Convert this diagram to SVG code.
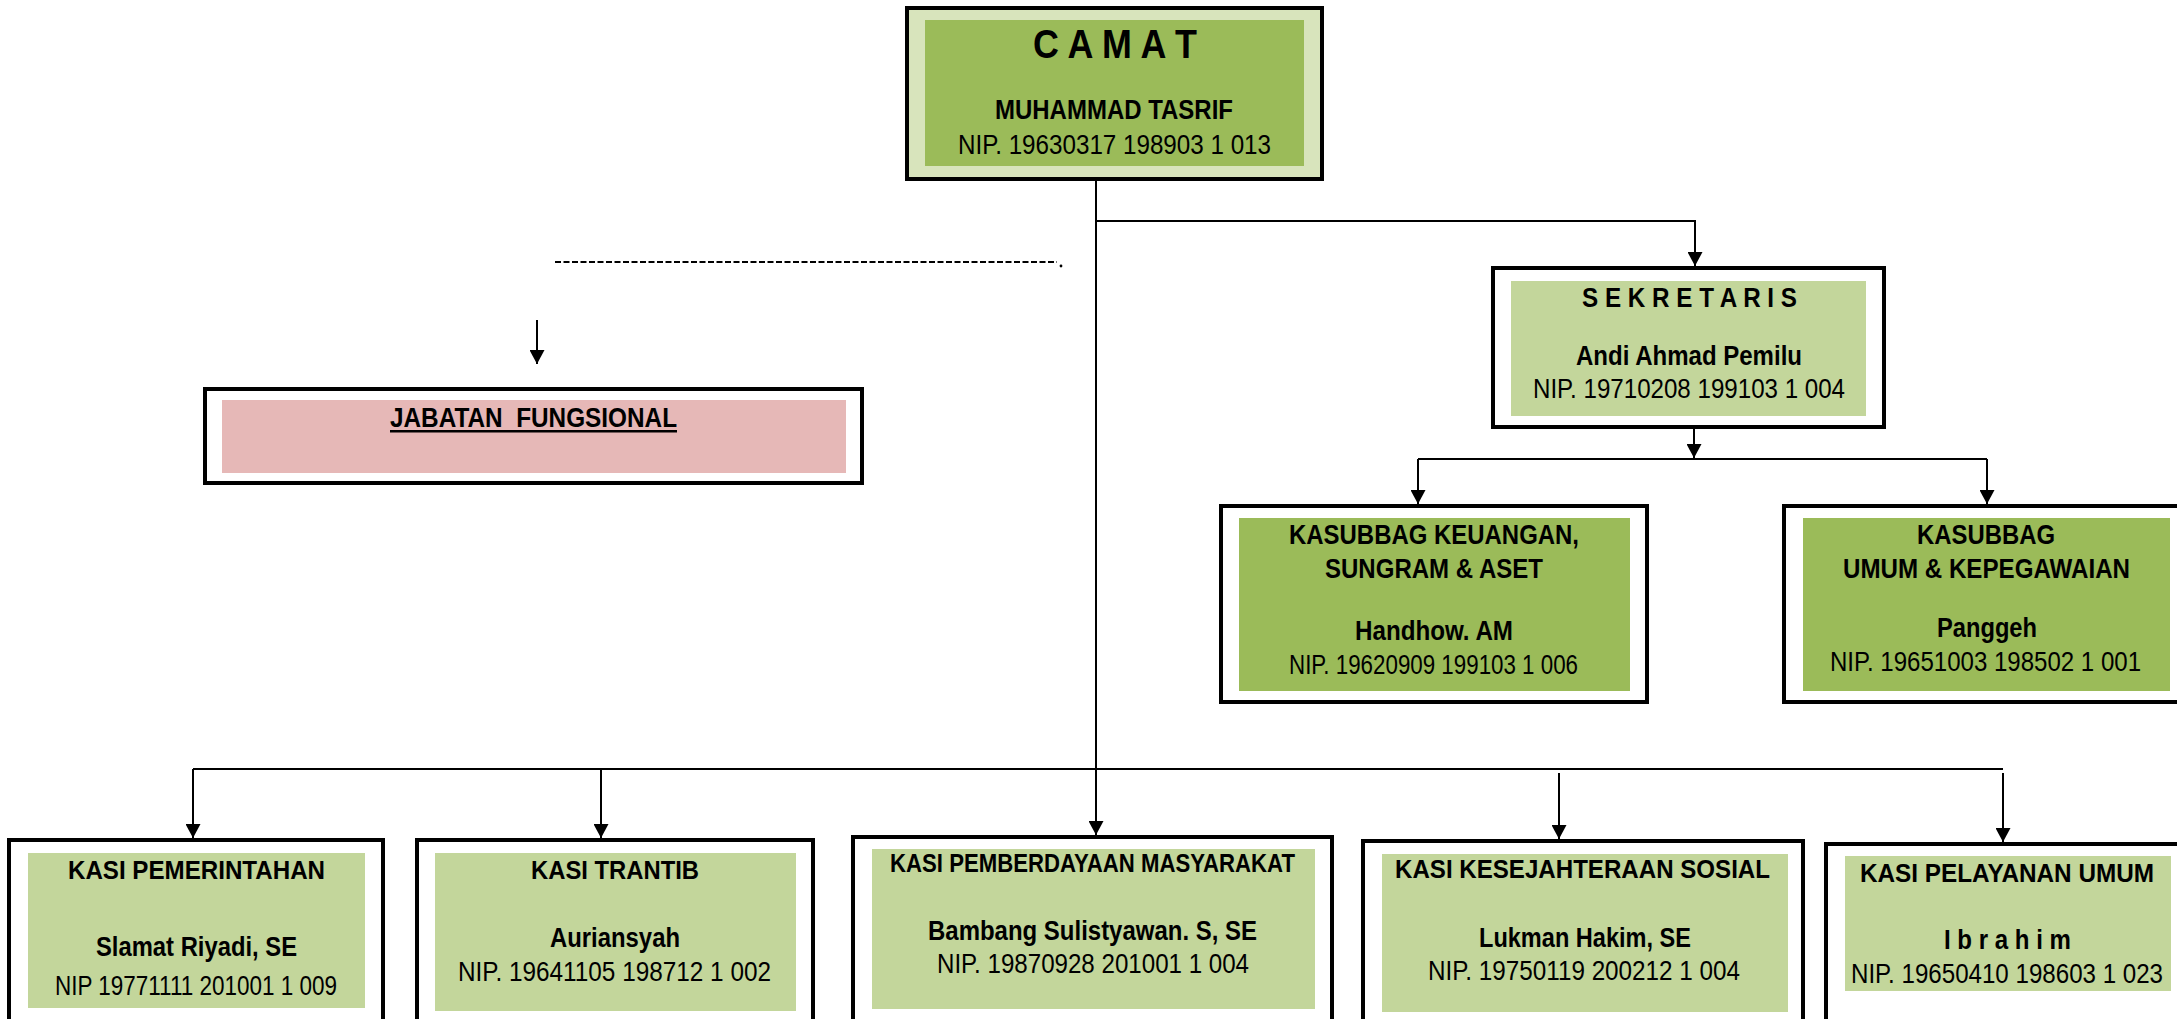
<svg xmlns="http://www.w3.org/2000/svg" width="2177" height="1019" viewBox="0 0 2177 1019">
<defs>
<marker id="arr" markerUnits="userSpaceOnUse" markerWidth="15" markerHeight="15" refX="14" refY="7.5" orient="auto">
<path d="M0,0 L14,7.5 L0,15 z" fill="#000"/>
</marker>
<style>
.outer{fill:#fff;stroke:#000;stroke-width:4}
.camat-outer{fill:#d8e4bc;stroke:#000;stroke-width:4}
.dark{fill:#9bbb59}
.light{fill:#c3d69b}
.pink{fill:#e6b8b7}
text{font-family:"Liberation Sans",Arial,sans-serif;fill:#000;text-anchor:middle}
.b{font-weight:bold}
.t{font-size:27px}
.s{font-size:25px}
.conn{fill:none;stroke:#000;stroke-width:2}
</style>
</defs>
<rect width="2177" height="1019" fill="#fff"/>

<g id="connectors">
<path class="conn" d="M1096,180 V835" marker-end="url(#arr)"/>
<path class="conn" d="M1096,221 H1695 V266" marker-end="url(#arr)"/>
<path class="conn" d="M1694,427 V458" marker-end="url(#arr)"/>
<path class="conn" d="M1418,459 H1987"/>
<path class="conn" d="M1418,459 V504" marker-end="url(#arr)"/>
<path class="conn" d="M1987,459 V504" marker-end="url(#arr)"/>
<path class="conn" d="M193,769 H2003"/>
<path class="conn" d="M193,769 V838" marker-end="url(#arr)"/>
<path class="conn" d="M601,769 V838" marker-end="url(#arr)"/>
<path class="conn" d="M1559,773 V839" marker-end="url(#arr)"/>
<path class="conn" d="M2003,773 V842" marker-end="url(#arr)"/>
<path class="conn" d="M537,320 V364" marker-end="url(#arr)"/>
<path class="conn" d="M555,262 H1057" stroke-dasharray="6 2.5" stroke-width="2.2"/>
<circle cx="1061" cy="266" r="1.4" fill="#000"/>
</g>

<g id="camat">
<rect class="camat-outer" x="907" y="8" width="415" height="171"/>
<rect class="dark" x="925" y="20" width="379" height="146"/>
<text class="b" x="1115" y="58" font-size="40" textLength="164" lengthAdjust="spacingAndGlyphs">C A M A T</text>
<text class="b t" x="1114" y="119" textLength="238" lengthAdjust="spacingAndGlyphs">MUHAMMAD TASRIF</text>
<text x="1114.5" y="154" font-size="28" textLength="313" lengthAdjust="spacingAndGlyphs">NIP. 19630317 198903 1 013</text>
</g>

<g id="sekretaris">
<rect class="outer" x="1493" y="268" width="391" height="159"/>
<rect class="light" x="1511" y="281" width="355" height="135"/>
<text class="b t" x="1689.5" y="307" textLength="215" lengthAdjust="spacingAndGlyphs">S E K R E T A R I S</text>
<text class="b t" x="1689" y="365" textLength="226" lengthAdjust="spacingAndGlyphs">Andi Ahmad Pemilu</text>
<text class="t" x="1689" y="398" textLength="312" lengthAdjust="spacingAndGlyphs">NIP. 19710208 199103 1 004</text>
</g>

<g id="kasubbag-keuangan">
<rect class="outer" x="1221" y="506" width="426" height="196"/>
<rect class="dark" x="1239" y="518" width="391" height="173"/>
<text class="b t" x="1434" y="544" textLength="290" lengthAdjust="spacingAndGlyphs">KASUBBAG KEUANGAN,</text>
<text class="b t" x="1434" y="578" textLength="218" lengthAdjust="spacingAndGlyphs">SUNGRAM &amp; ASET</text>
<text class="b t" x="1434" y="640" textLength="158" lengthAdjust="spacingAndGlyphs">Handhow. AM</text>
<text class="t" x="1433.5" y="674" textLength="289" lengthAdjust="spacingAndGlyphs">NIP. 19620909 199103 1 006</text>
</g>

<g id="kasubbag-umum">
<rect class="outer" x="1784" y="506" width="410" height="196"/>
<rect class="dark" x="1803" y="518" width="367" height="173"/>
<text class="b t" x="1986" y="544" textLength="138" lengthAdjust="spacingAndGlyphs">KASUBBAG</text>
<text class="b t" x="1986.5" y="578" textLength="287" lengthAdjust="spacingAndGlyphs">UMUM &amp; KEPEGAWAIAN</text>
<text class="b t" x="1987" y="637" textLength="100" lengthAdjust="spacingAndGlyphs">Panggeh</text>
<text class="t" x="1985.5" y="671" textLength="311" lengthAdjust="spacingAndGlyphs">NIP. 19651003 198502 1 001</text>
</g>

<g id="jabatan-fungsional">
<rect class="outer" x="205" y="389" width="657" height="94" stroke-width="3"/>
<rect class="pink" x="222" y="400" width="624" height="73"/>
<text class="b t" x="533.5" y="427" textLength="287" lengthAdjust="spacingAndGlyphs" style="white-space:pre">JABATAN  FUNGSIONAL</text>
<rect x="390" y="430" width="287" height="2.5" fill="#000"/>
</g>

<g id="kasi-pemerintahan">
<rect class="outer" x="9" y="840" width="374" height="200"/>
<rect class="light" x="28" y="853" width="337" height="155"/>
<text class="b s" x="196.5" y="879" textLength="257" lengthAdjust="spacingAndGlyphs">KASI PEMERINTAHAN</text>
<text class="b t" x="196.5" y="956" textLength="201" lengthAdjust="spacingAndGlyphs">Slamat Riyadi, SE</text>
<text class="t" x="196" y="995" textLength="282" lengthAdjust="spacingAndGlyphs">NIP 19771111 201001 1 009</text>
</g>

<g id="kasi-trantib">
<rect class="outer" x="417" y="840" width="396" height="200"/>
<rect class="light" x="435" y="853" width="361" height="158"/>
<text class="b s" x="615" y="879" textLength="168" lengthAdjust="spacingAndGlyphs">KASI TRANTIB</text>
<text class="b t" x="615" y="947" textLength="130" lengthAdjust="spacingAndGlyphs">Auriansyah</text>
<text class="t" x="614.5" y="981" textLength="313" lengthAdjust="spacingAndGlyphs">NIP. 19641105 198712 1 002</text>
</g>

<g id="kasi-pemberdayaan">
<rect class="outer" x="853" y="837" width="479" height="200"/>
<rect class="light" x="872" y="849" width="443" height="160"/>
<text class="b s" x="1092.5" y="872" textLength="405" lengthAdjust="spacingAndGlyphs">KASI PEMBERDAYAAN MASYARAKAT</text>
<text class="b t" x="1092.5" y="940" textLength="329" lengthAdjust="spacingAndGlyphs">Bambang Sulistyawan. S, SE</text>
<text class="t" x="1093" y="973" textLength="312" lengthAdjust="spacingAndGlyphs">NIP. 19870928 201001 1 004</text>
</g>

<g id="kasi-kesejahteraan">
<rect class="outer" x="1363" y="841" width="440" height="200"/>
<rect class="light" x="1382" y="854" width="406" height="158"/>
<text class="b s" x="1582.5" y="878" textLength="375" lengthAdjust="spacingAndGlyphs">KASI KESEJAHTERAAN SOSIAL</text>
<text class="b t" x="1585" y="947" textLength="212" lengthAdjust="spacingAndGlyphs">Lukman Hakim, SE</text>
<text class="t" x="1584" y="980" textLength="312" lengthAdjust="spacingAndGlyphs">NIP. 19750119 200212 1 004</text>
</g>

<g id="kasi-pelayanan">
<rect class="outer" x="1826" y="844" width="380" height="200"/>
<rect class="light" x="1845" y="856" width="326" height="135"/>
<text class="b s" x="2007" y="882" textLength="294" lengthAdjust="spacingAndGlyphs">KASI PELAYANAN UMUM</text>
<text class="b t" x="2007.5" y="949" textLength="127" lengthAdjust="spacingAndGlyphs">I b r a h i m</text>
<text class="t" x="2007" y="983" textLength="312" lengthAdjust="spacingAndGlyphs">NIP. 19650410 198603 1 023</text>
</g>
</svg>
